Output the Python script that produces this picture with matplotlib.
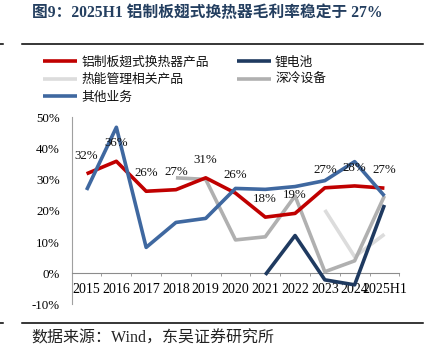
import matplotlib
matplotlib.use("Agg")
import matplotlib.pyplot as plt
from matplotlib.lines import Line2D
import numpy as np

plt.rcParams['font.family'] = ['Liberation Serif', 'Noto Sans CJK SC', 'DejaVu Sans']

categories = ["2015", "2016", "2017", "2018", "2019", "2020", "2021", "2022", "2023", "2024", "2025H1"]
nan = np.nan
fin_heat = [31.9, 35.9, 26.3, 26.8, 30.6, 25.7, 18.0, 19.2, 27.4, 28.0, 27.3]
battery = [nan, nan, nan, nan, nan, nan, -0.5, 12.1, -2.1, -3.7, 21.9]
thermal = [nan, nan, nan, nan, nan, nan, nan, nan, 20.3, 5.3, 12.5]
cryo = [nan, nan, nan, 30.6, 30.1, 10.7, 11.7, 24.8, 0.5, 4.0, 24.8]
other = [26.7, 46.8, 8.3, 16.3, 17.6, 27.2, 26.9, 27.8, 29.7, 35.8, 24.8]

names = ["铝制板翅式换热器产品", "锂电池", "热能管理相关产品", "深冷设备", "其他业务"]
colors = ["#C00000", "#1F3A60", "#DCDCDC", "#B0B0B0", "#3F68A0"]
yticks = [-10, 0, 10, 20, 30, 40, 50]

W, H = 431, 357
fig = plt.figure(figsize=(W / 100, H / 100), dpi=100)
ax = fig.add_axes([71.7 / W, 1 - 304.5 / H, 327.6 / W, 187.2 / H])

x = np.arange(len(categories))
lw = 2.6
series = [fin_heat, battery, thermal, cryo, other]
z = {0: 5, 1: 4, 2: 2, 3: 3, 4: 6}
handles = {}
for i, (s, c, n) in enumerate(zip(series, colors, names)):
    ln, = ax.plot(x, s, color=c, lw=lw, solid_capstyle='butt', zorder=z[i], label=n)
    handles[i] = ln

for xi, v in zip(x, fin_heat):
    ax.annotate(f"{v:.0f}%", (xi, v), xytext=(0, 13), textcoords='offset points',
                ha='center', va='center', fontsize=9.3, color='#111111', zorder=10)

ax.set_xlim(-0.5, len(categories) - 0.5)
ax.set_ylim(-10, 50)
ax.set_yticks(yticks)
ax.set_yticklabels([f"{t}%" for t in yticks], fontsize=9.3)
ax.tick_params(axis='y', length=0, pad=8.4)
ax.set_yticks([-10, 50], minor=True)
ax.tick_params(axis='y', which='minor', direction='in', length=2.5, color='#8c8c8c')

ax.set_xticks(x)
ax.set_xticklabels(categories, fontsize=9.3)
ax.tick_params(axis='x', which='major', length=0, pad=7)
ax.set_xticks(np.arange(-0.5, len(categories), 1.0), minor=True)
ax.tick_params(axis='x', which='minor', direction='out', length=2.5, color='#8c8c8c')

for sp in ['top', 'right']:
    ax.spines[sp].set_visible(False)
ax.spines['bottom'].set_position(('data', 0))
ax.spines['bottom'].set_color('#8c8c8c')
ax.spines['left'].set_color('#a0a0a0')
ax.spines['bottom'].set_linewidth(0.8)
ax.spines['left'].set_linewidth(0.8)
ax.patch.set_visible(False)

order = [0, 2, 4, 1, 3]
leg = fig.legend([handles[i] for i in order], [names[i] for i in order],
                 loc='upper left', bbox_to_anchor=(43.3 / W, 1 - 56.5 / H), ncol=2,
                 frameon=False, fontsize=9.2, handlelength=2.65, handletextpad=0.33,
                 columnspacing=2.2, labelspacing=0.42, borderpad=0, borderaxespad=0)
for t in leg.get_texts():
    t.set_color('#111111')

fig.text(31.7 / W, 1 - 13.5 / H, "图9：2025H1 铝制板翅式换热器毛利率稳定于 27%",
         fontsize=11.3, fontweight='bold', color='#243F60', va='center', ha='left')

fig.add_artist(Line2D([21.7 / W, 423 / W], [1 - 44 / H, 1 - 44 / H], color='black', lw=1.1))
fig.add_artist(Line2D([0, 3.5 / W], [1 - 44 / H, 1 - 44 / H], color='black', lw=1.1))
fig.add_artist(Line2D([21.7 / W, 423 / W], [1 - 322.5 / H, 1 - 322.5 / H], color='black', lw=1.1))
fig.add_artist(Line2D([0, 3.5 / W], [1 - 322.5 / H, 1 - 322.5 / H], color='black', lw=1.1))

fig.text(31.7 / W, 1 - 339 / H, "数据来源：Wind，东吴证券研究所",
         fontsize=11.5, color='#222222', va='center', ha='left')

fig.savefig("out.png", dpi=100)
